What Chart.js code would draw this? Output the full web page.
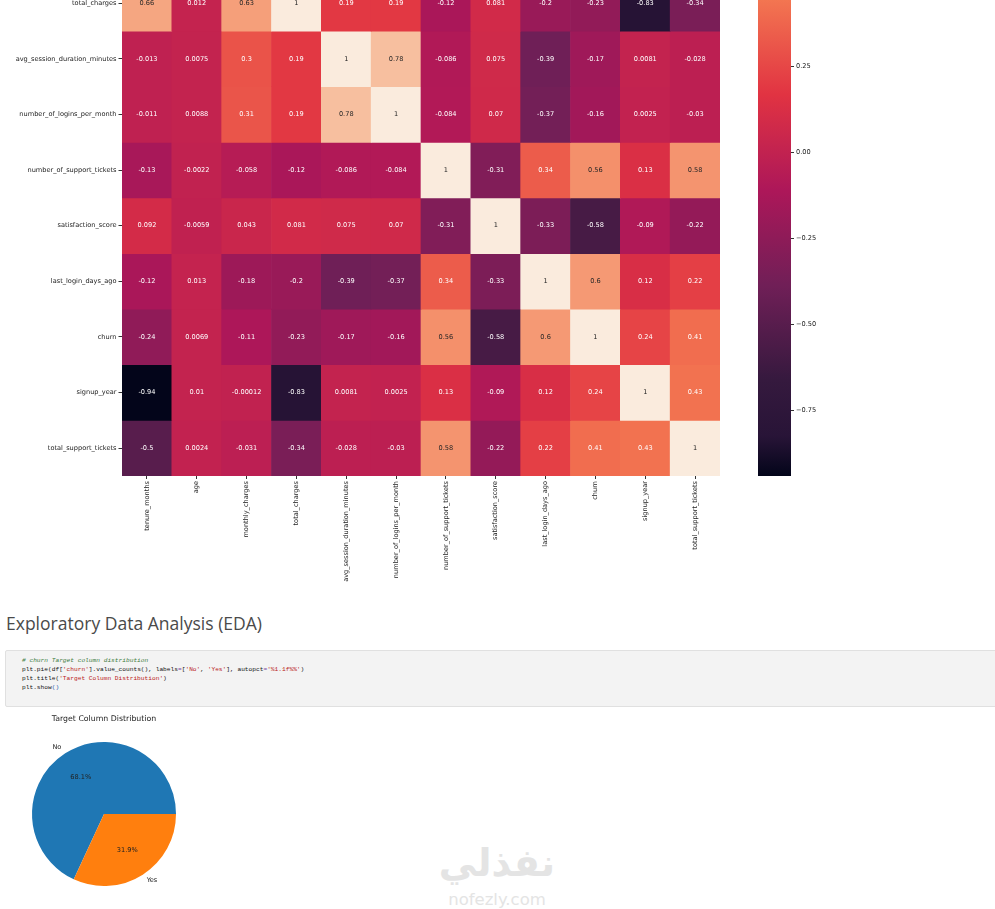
<!DOCTYPE html>
<html>
<head>
<meta charset="utf-8">
<script src="https://cdn.jsdelivr.net/npm/chart.js@4.4.1/dist/chart.umd.min.js"></script>
<style>
  body { margin: 0; width: 995px; height: 909px; overflow: hidden; background: #fff; position: relative; }
  canvas { position: absolute; }
  #heat { left: 0; top: 0; }
  #bar { left: 740px; top: 0; }
  #pie { left: 0; top: 710px; }
  #eda { position: absolute; left: 6px; top: 614px; font: 19px/19px "Open Sans", sans-serif; color: #4a4a4a; white-space: nowrap; transform-origin: left top; }
  .cell { position: absolute; left: 5px; top: 650px; width: 1000px; height: 55px; background: #f3f3f3; border: 1px solid #e0e0e0; border-radius: 2px; }
  .cell pre { margin: 0; padding: 5px 0 0 16px; font: 6.2px/9.1px "Liberation Mono", monospace; color: #111; }
  .c { color: #3d7b3d; font-style: italic; }
  .s { color: #ba2121; }
  .o { color: #7a3fa0; }
  .p { color: #1f55b0; }
  .wm { position: absolute; white-space: nowrap; color: #e4e4e4; font-family: "DejaVu Sans", sans-serif; transform: translateX(-50%); }
</style>
</head>
<body>
<canvas id="heat" width="720" height="588"></canvas>
<canvas id="bar" width="91" height="476"></canvas>
<div id="eda">Exploratory Data Analysis (EDA)</div>
<div class="cell"><pre><span class="c"># churn Target column distribution</span>
plt.pie(df[<span class="s">'churn'</span>].value_counts(), labels<span class="o">=</span>[<span class="s">'No'</span>, <span class="s">'Yes'</span>], autopct<span class="o">=</span><span class="s">'%1.1f%%'</span>)
plt.title(<span class="s">'Target Column Distribution'</span>)
plt.show<span class="p">()</span></pre></div>
<canvas id="pie" width="208" height="190"></canvas>
<div class="wm" style="left:497px; top:842px; font-size:38px; font-weight:bold; line-height:42px;">نفذلي</div>
<div class="wm" style="left:497px; top:891px; font-size:16.5px; line-height:17px;">nofezly.com</div>

<script>
// heatmap columns (rows shown are the lower part of the same list)
const colLabels = ['tenure_months', 'age', 'monthly_charges', 'total_charges',
    'avg_session_duration_minutes', 'number_of_logins_per_month', 'number_of_support_tickets',
    'satisfaction_score', 'last_login_days_ago', 'churn', 'signup_year', 'total_support_tickets'];
const rowLabels = colLabels.slice(3);

const corrTotalCharges = [0.66, 0.012, 0.63, 1, 0.19, 0.19, -0.12, 0.081, -0.2, -0.23, -0.83, -0.34];
const corrSession = [-0.013, 0.0075, 0.3, 0.19, 1, 0.78, -0.086, 0.075, -0.39, -0.17, 0.0081, -0.028];
const corrLogins = [-0.011, 0.0088, 0.31, 0.19, 0.78, 1, -0.084, 0.07, -0.37, -0.16, 0.0025, -0.03];
const corrSupport = [-0.13, -0.0022, -0.058, -0.12, -0.086, -0.084, 1, -0.31, 0.34, 0.56, 0.13, 0.58];
const corrSatisfaction = [0.092, -0.0059, 0.043, 0.081, 0.075, 0.07, -0.31, 1, -0.33, -0.58, -0.09, -0.22];
const corrLastLogin = [-0.12, 0.013, -0.18, -0.2, -0.39, -0.37, 0.34, -0.33, 1, 0.6, 0.12, 0.22];
const corrChurn = [-0.24, 0.0069, -0.11, -0.23, -0.17, -0.16, 0.56, -0.58, 0.6, 1, 0.24, 0.41];
const corrSignup = [-0.94, 0.01, -0.00012, -0.83, 0.0081, 0.0025, 0.13, -0.09, 0.12, 0.24, 1, 0.43];
const corrTotalSupport = [-0.5, 0.0024, -0.031, -0.34, -0.028, -0.03, 0.58, -0.22, 0.22, 0.41, 0.43, 1];
const matrix = [corrTotalCharges, corrSession, corrLogins, corrSupport, corrSatisfaction,
    corrLastLogin, corrChurn, corrSignup, corrTotalSupport];

const vmin = -0.94;
const vmax = 1;
const colorbarTicks = [-0.75, -0.5, -0.25, 0, 0.25];

const pieLabels = ['No', 'Yes'];
const pieValues = [68.1, 31.9];
const pieColors = ['#1f77b4', '#ff7f0e'];

// part of the top row that is scrolled out of view
const hiddenTop = 0.44;

const FONT = '"DejaVu Sans", sans-serif';
const TXT = '#222';

// seaborn "rocket"
const rocketStops = [
    [0, 3, 5, 26], [0.06, 40, 20, 55], [1 / 7, 53, 25, 62], [2 / 7, 112, 31, 87], [3 / 7, 173, 23, 89],
    [4 / 7, 225, 51, 66], [5 / 7, 243, 118, 81], [6 / 7, 246, 180, 143], [1, 250, 235, 221]
];

const rocketRgb = t => {
    t = Math.max(0, Math.min(1, t));
    for (let i = 1; i < rocketStops.length; i++) {
        const a = rocketStops[i - 1], b = rocketStops[i];
        if (t <= b[0]) {
            const f = (t - a[0]) / (b[0] - a[0]);
            return [1, 2, 3].map(k => a[k] + (b[k] - a[k]) * f);
        }
    }
    return rocketStops[rocketStops.length - 1].slice(1);
};
const toCss = c => `rgb(${c.map(Math.round).join(',')})`;
const norm = v => (v - vmin) / (vmax - vmin);

const luminance = c => {
    const lin = c.map(x => {
        x = x / 255;
        return x <= 0.03928 ? x / 12.92 : Math.pow((x + 0.055) / 1.055, 2.4);
    });
    return 0.2126 * lin[0] + 0.7152 * lin[1] + 0.0722 * lin[2];
};

const cellText = {
    id: 'cellText',
    afterDatasetsDraw(chart) {
        const ctx = chart.ctx, a = chart.chartArea;
        ctx.save();
        ctx.beginPath();
        ctx.rect(a.left, a.top, a.right - a.left, a.bottom - a.top);
        ctx.clip();
        ctx.font = '6.6px ' + FONT;
        ctx.textAlign = 'center';
        ctx.textBaseline = 'middle';
        chart.data.datasets.forEach((ds, i) => {
            chart.getDatasetMeta(i).data.forEach((bar, j) => {
                const v = matrix[i][j];
                ctx.fillStyle = luminance(rocketRgb(norm(v))) > 0.36 ? '#262626' : '#ffffff';
                ctx.fillText(String(v), bar.x, (bar.y + bar.base) / 2);
            });
        });
        ctx.restore();
    }
};

new Chart(document.getElementById('heat'), {
    type: 'bar',
    data: {
        labels: colLabels,
        datasets: matrix.map((row, i) => ({
            label: rowLabels[i],
            data: row.map(() => 1),
            backgroundColor: row.map(v => toCss(rocketRgb(norm(v)))),
            borderWidth: 0,
            barPercentage: 1,
            categoryPercentage: 1,
            clip: 0
        }))
    },
    options: {
        responsive: false,
        animation: false,
        layout: { padding: 0 },
        plugins: { legend: { display: false }, tooltip: { enabled: false } },
        scales: {
            x: {
                stacked: true,
                border: { display: false },
                grid: { offset: false, drawOnChartArea: false, tickLength: 3, color: '#333' },
                ticks: { autoSkip: false, minRotation: 90, maxRotation: 90, padding: 2, color: TXT, font: { family: FONT, size: 6.6 } },
                afterFit: s => { s.height = 112; s.paddingLeft = 0; s.paddingRight = 0; }
            },
            y: {
                type: 'linear',
                stacked: true,
                reverse: true,
                min: hiddenTop,
                max: rowLabels.length,
                border: { display: false },
                grid: { drawOnChartArea: false, tickLength: 3.5, color: '#333' },
                ticks: { autoSkip: false, padding: 2, color: TXT, font: { family: FONT, size: 6.6 },
                    callback: (v, i) => rowLabels[i] },
                afterBuildTicks: s => { s.ticks = rowLabels.map((r, i) => ({ value: i + 0.5 })); },
                afterFit: s => { s.width = 122; s.paddingTop = 0; s.paddingBottom = 0; }
            }
        }
    },
    plugins: [cellText]
});

// colour bar
const barTop = vmin + (vmax - vmin) * (rowLabels.length - hiddenTop) / colLabels.length;

new Chart(document.getElementById('bar'), {
    type: 'bar',
    data: {
        labels: ['corr'],
        datasets: [{
            data: [[vmin, vmax]],
            borderWidth: 0,
            barPercentage: 1,
            categoryPercentage: 1,
            clip: 0,
            backgroundColor: c => {
                const chart = c.chart;
                if (!chart.chartArea) return null;
                const y = chart.scales.y;
                const g = chart.ctx.createLinearGradient(0, y.getPixelForValue(vmin), 0, y.getPixelForValue(vmax));
                rocketStops.forEach(s => g.addColorStop(s[0], toCss(s.slice(1))));
                return g;
            }
        }]
    },
    options: {
        responsive: false,
        animation: false,
        layout: { padding: { left: 18, right: 0, top: 0, bottom: 0 } },
        plugins: { legend: { display: false }, tooltip: { enabled: false } },
        scales: {
            x: { display: false },
            y: {
                position: 'right',
                min: vmin,
                max: barTop,
                border: { display: false },
                grid: { drawOnChartArea: false, tickLength: 3, color: '#333' },
                ticks: { padding: 2, color: TXT, font: { family: FONT, size: 6.6 },
                    callback: v => v.toFixed(2).replace('-', '\u2212') },
                afterBuildTicks: s => { s.ticks = colorbarTicks.map(v => ({ value: v })); },
                afterFit: s => { s.width = 40; s.paddingTop = 0; s.paddingBottom = 0; }
            }
        }
    }
});

// pie labels like matplotlib: names at 1.1 r, percentages at 0.6 r
const pieText = {
    id: 'pieText',
    afterDatasetsDraw(chart) {
        const ctx = chart.ctx;
        ctx.save();
        ctx.font = '6.6px ' + FONT;
        ctx.fillStyle = TXT;
        ctx.textBaseline = 'middle';
        chart.getDatasetMeta(0).data.forEach((arc, i) => {
            const mid = (arc.startAngle + arc.endAngle) / 2;
            const r = arc.outerRadius;
            const cx = Math.cos(mid), cy = Math.sin(mid);
            ctx.textAlign = cx > 0 ? 'left' : 'right';
            ctx.fillText(pieLabels[i], arc.x + cx * r * 1.1, arc.y + cy * r * 1.1);
            ctx.textAlign = 'center';
            ctx.fillText(pieValues[i].toFixed(1) + '%', arc.x + cx * r * 0.6, arc.y + cy * r * 0.6);
        });
        ctx.restore();
    }
};

const pieTotal = pieValues.reduce((a, b) => a + b, 0);

new Chart(document.getElementById('pie'), {
    type: 'pie',
    data: {
        labels: pieLabels,
        datasets: [{ data: pieValues, backgroundColor: pieColors, borderWidth: 0 }]
    },
    options: {
        responsive: false,
        animation: false,
        // matplotlib starts at 3 o'clock and goes counter-clockwise
        rotation: 90 + 360 * pieValues[1] / pieTotal,
        layout: { padding: { left: 32, right: 32, top: 0, bottom: 14 } },
        plugins: {
            legend: { display: false },
            tooltip: { enabled: false },
            title: {
                display: true,
                text: 'Target Column Distribution',
                color: TXT,
                font: { family: FONT, size: 7.8, weight: 'normal' },
                padding: { top: 4, bottom: 18.6 }
            }
        }
    },
    plugins: [pieText]
});

// squeeze heading to the width it has in the notebook
const eda = document.getElementById('eda');
eda.style.transform = `scaleX(${256 / eda.getBoundingClientRect().width})`;
</script>
</body>
</html>
